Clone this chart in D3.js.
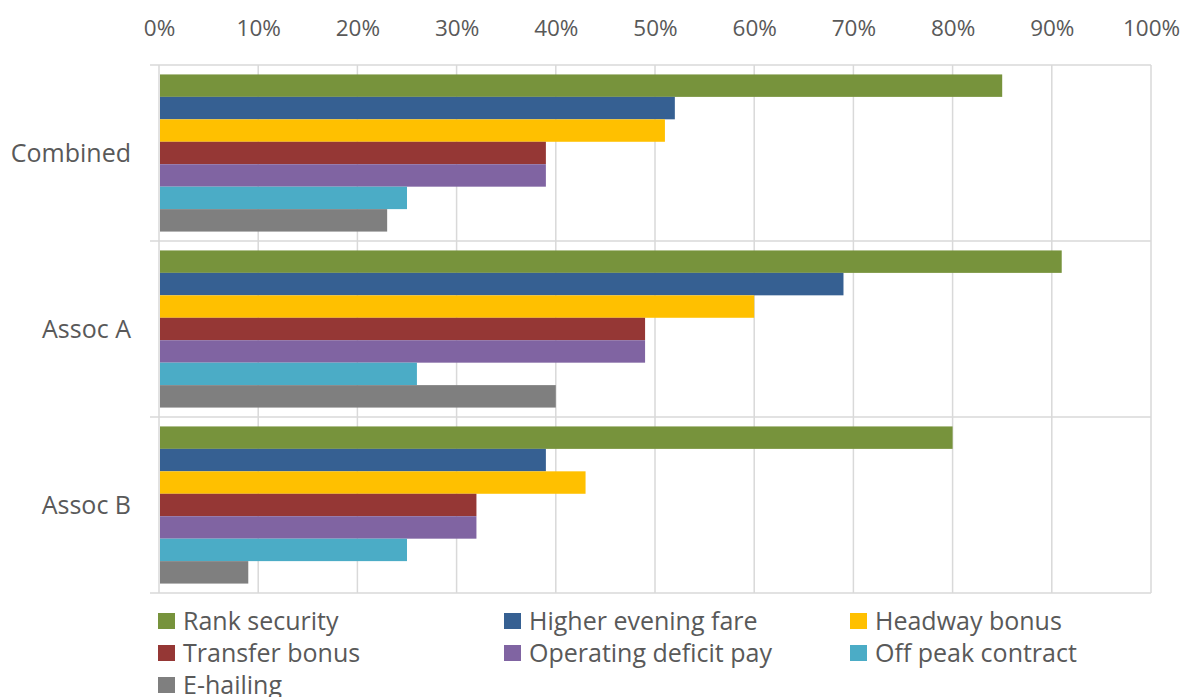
<!DOCTYPE html>
<html>
<head>
<meta charset="utf-8">
<script src="https://cdn.jsdelivr.net/npm/d3@7"></script>
<style>
  html, body { margin: 0; padding: 0; background: #fff; }
  svg { display: block; }
  text { font-family: "Open Sans", Lato, sans-serif; fill: #595959; }
</style>
</head>
<body>
<svg id="chart" width="1194" height="697"></svg>
<script>
// Groups shown top to bottom
const categories = ["Combined", "Assoc A", "Assoc B"];

// Series, in legend / bar order within each group
const seriesNames = [
  "Rank security", "Higher evening fare", "Headway bonus",
  "Transfer bonus", "Operating deficit pay", "Off peak contract", "E-hailing"
];
const seriesColors = ["#77933c", "#366092", "#ffc000", "#953735", "#8064a2", "#4bacc6", "#7f7f7f"];

// Share of respondents per series, one entry per group (Combined, Assoc A, Assoc B)
const rankSecurity        = [0.85, 0.91, 0.80];
const higherEveningFare   = [0.52, 0.69, 0.39];
const headwayBonus        = [0.51, 0.60, 0.43];
const transferBonus       = [0.39, 0.49, 0.32];
const operatingDeficitPay = [0.39, 0.49, 0.32];
const offPeakContract     = [0.25, 0.26, 0.25];
const eHailing            = [0.23, 0.40, 0.09];

const seriesValues = [rankSecurity, higherEveningFare, headwayBonus, transferBonus,
                      operatingDeficitPay, offPeakContract, eHailing];

const tickValues = [0, 0.1, 0.2, 0.3, 0.4, 0.5, 0.6, 0.7, 0.8, 0.9, 1.0];

const svg = d3.select("#chart");
const plot = { left: 159, right: 1151, top: 65, bottom: 593 };

const x = d3.scaleLinear().domain([0, 1]).range([plot.left, plot.right]);
const y0 = d3.scaleBand().domain(categories).range([plot.top, plot.bottom]).paddingInner(0).paddingOuter(0);
const y1 = d3.scaleBand().domain(seriesNames).range([0, y0.bandwidth()]).paddingOuter(0.42).paddingInner(0);

const gridColor = "#d9d9d9";

// Vertical gridlines
svg.append("g")
  .selectAll("line")
  .data(tickValues)
  .join("line")
  .attr("x1", d => x(d)).attr("x2", d => x(d))
  .attr("y1", plot.top).attr("y2", plot.bottom)
  .attr("stroke", gridColor).attr("stroke-width", 1.5);

// Group separators (category axis tick lines)
const bounds = categories.map(c => y0(c)).concat([plot.bottom]);
svg.append("g")
  .selectAll("line")
  .data(bounds)
  .join("line")
  .attr("x1", plot.left - 9).attr("x2", plot.right)
  .attr("y1", d => d).attr("y2", d => d)
  .attr("stroke", gridColor).attr("stroke-width", 1.5);

// Top value axis
const xAxis = d3.axisTop(x).tickValues(tickValues).tickFormat(d3.format(".0%")).tickSize(0).tickPadding(0);
const gx = svg.append("g").attr("transform", `translate(0,${36})`).call(xAxis);
gx.select(".domain").remove();
gx.selectAll("text")
  .attr("fill", "#595959")
  .attr("dy", 0)
  .style("font-family", "\"Open Sans\", Lato, sans-serif")
  .style("font-size", "22.5px");

// Bars
const groups = svg.append("g")
  .selectAll("g")
  .data(categories)
  .join("g")
  .attr("transform", d => `translate(0,${y0(d)})`);

groups.selectAll("rect")
  .data((c, ci) => seriesNames.map((s, si) => ({ s, si, v: seriesValues[si][ci] })))
  .join("rect")
  .attr("x", x(0) + 1)
  .attr("y", d => y1(d.s))
  .attr("width", d => x(d.v) - x(0) - 1)
  .attr("height", y1.bandwidth())
  .attr("fill", d => seriesColors[d.si]);

// Category labels
svg.append("g")
  .selectAll("text")
  .data(categories)
  .join("text")
  .attr("x", 131)
  .attr("y", d => y0(d) + y0.bandwidth() / 2)
  .attr("dy", "0.35em")
  .attr("text-anchor", "end")
  .style("font-size", "25px")
  .text(d => d);

// Legend, three columns
const legendCols = [158, 504, 850];
const legendRows = [630, 662, 694];
const legend = svg.append("g")
  .selectAll("g")
  .data(seriesNames)
  .join("g")
  .attr("transform", (d, i) => `translate(${legendCols[i % 3]},${legendRows[Math.floor(i / 3)]})`);

legend.append("rect")
  .attr("x", 0).attr("y", -17)
  .attr("width", 17).attr("height", 16)
  .attr("fill", (d, i) => seriesColors[i]);

legend.append("text")
  .attr("x", 25).attr("y", 0)
  .style("font-size", "25px")
  .text(d => d);
</script>
</body>
</html>
